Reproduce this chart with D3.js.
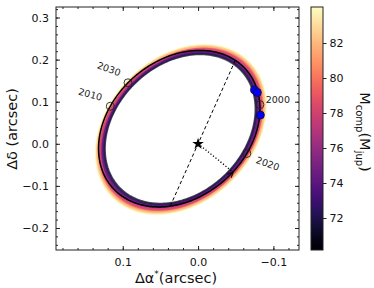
<!DOCTYPE html>
<html>
<head>
<meta charset="utf-8">
<script src="https://cdn.jsdelivr.net/npm/d3@7"></script>
<style>
  body { margin: 0; background: #fff; }
  svg { font-family: "DejaVu Sans", sans-serif; }
</style>
</head>
<body>
<div id="chart"></div>
<script>
// best-fit orbit (a in arcsec, angles in degrees, P in yr)
const bestA = 0.199;
const bestE = 0.35;
const bestInc = 58.7;
const bestOmega = 245.5;   // argument of periastron
const bestNode = -14.0;    // position angle of node
const bestP = 21.55;
const bestT0 = 2019.41;

// sample orbits coloured by companion mass
const sampleMass = [76.3, 83.2, 70.6, 79.7, 73.7, 81.4, 77.1, 71.8, 84.0, 75.4, 80.5, 72.9, 78.8, 82.3, 74.6, 78.0];
const sampleA    = [0.1996, 0.2116, 0.1910, 0.2053, 0.1958, 0.2083, 0.2008, 0.1928, 0.2130, 0.1984, 0.2067, 0.1945, 0.2037, 0.2100, 0.1972, 0.2022];
const sampleE    = [0.339, 0.313, 0.360, 0.326, 0.349, 0.320, 0.336, 0.356, 0.310, 0.342, 0.323, 0.351, 0.329, 0.316, 0.345, 0.332];
const sampleInc  = [59.7, 59.7, 59.7, 59.7, 59.7, 59.7, 59.7, 59.7, 59.7, 59.7, 59.7, 59.7, 59.7, 59.7, 59.7, 59.7];

// epochs marked on the orbit
const epochs = [2000, 2010, 2020, 2030];

// observed relative astrometry (arcsec)
const obsRA  = [-0.0750, -0.0787, -0.0827];
const obsDec = [0.1280, 0.1220, 0.0682];

const xTicks = [0.1, 0.0, -0.1];
const yTicks = [-0.2, -0.1, 0.0, 0.1, 0.2, 0.3];
const cbTicks = [72, 74, 76, 78, 80, 82];
const massRange = [70.17, 84.06];

// label placement (pixel offsets from marker, rotation)
const epochLabelPos = { 2000: [18, -5, 0], 2010: [-20, -12, 15], 2020: [21, 10, 20], 2030: [-19, -14, 20] };

const W = 374, H = 288;
const L = 56, T = 7, R = 299, B = 250;
const rad = Math.PI / 180;

const svg = d3.select('#chart').append('svg').attr('width', W).attr('height', H);

const x = d3.scaleLinear().domain([0.1886, -0.134]).range([L, R]);
const y = d3.scaleLinear().domain([-0.2523, 0.325]).range([B, T]);
const color = d3.scaleSequential(d3.interpolateMagma).domain(massRange);

function makeOrbit(a, e, inc, omega, node, P, T0) {
  const w = omega * rad, W_ = node * rad, ci = Math.cos(inc * rad);
  const A = a * (Math.cos(w) * Math.cos(W_) - Math.sin(w) * Math.sin(W_) * ci);
  const Bc = a * (Math.cos(w) * Math.sin(W_) + Math.sin(w) * Math.cos(W_) * ci);
  const F = a * (-Math.sin(w) * Math.cos(W_) - Math.cos(w) * Math.sin(W_) * ci);
  const G = a * (-Math.sin(w) * Math.sin(W_) + Math.cos(w) * Math.cos(W_) * ci);
  const q = Math.sqrt(1 - e * e);
  const fromE = E => {
    const X = Math.cos(E) - e, Y = q * Math.sin(E);
    return [Bc * X + G * Y, A * X + F * Y];
  };
  const fromNu = nu => {
    const r = (1 - e * e) / (1 + e * Math.cos(nu));
    const X = r * Math.cos(nu), Y = r * Math.sin(nu);
    return [Bc * X + G * Y, A * X + F * Y];
  };
  const atTime = t => {
    let M = 2 * Math.PI * (t - T0) / P;
    M = ((M % (2 * Math.PI)) + 2 * Math.PI) % (2 * Math.PI);
    let E = M;
    for (let k = 0; k < 30; k++) E -= (E - e * Math.sin(E) - M) / (1 - e * Math.cos(E));
    return fromE(E);
  };
  return { fromE, fromNu, atTime, w };
}

const line = d3.line().x(d => x(d[0])).y(d => y(d[1])).curve(d3.curveLinearClosed);
const Es = d3.range(0, 360, 1).map(d => d * rad);

const clip = svg.append('clipPath').attr('id', 'clip')
  .append('rect').attr('x', L).attr('y', T).attr('width', R - L).attr('height', B - T);
const plot = svg.append('g').attr('clip-path', 'url(#clip)');

// sample orbits
sampleMass.forEach((m, i) => {
  const orb = makeOrbit(sampleA[i], sampleE[i], sampleInc[i], bestOmega, bestNode, bestP, bestT0);
  plot.append('path')
    .attr('d', line(Es.map(orb.fromE)))
    .attr('fill', 'none')
    .attr('stroke', color(m))
    .attr('stroke-width', 2.2)
    .attr('stroke-opacity', 0.7);
});

const best = makeOrbit(bestA, bestE, bestInc, bestOmega, bestNode, bestP, bestT0);

// best orbit
plot.append('path')
  .attr('d', line(Es.map(best.fromE)))
  .attr('fill', 'none')
  .attr('stroke', '#000')
  .attr('stroke-width', 1.5);

// line of nodes
const n1 = best.fromNu(-best.w), n2 = best.fromNu(Math.PI - best.w);
plot.append('line')
  .attr('x1', x(n1[0])).attr('y1', y(n1[1]))
  .attr('x2', x(n2[0])).attr('y2', y(n2[1]))
  .attr('stroke', '#000').attr('stroke-width', 1)
  .attr('stroke-dasharray', '3.5,2.5');

// periastron
const peri = best.fromE(0);
plot.append('line')
  .attr('x1', x(0)).attr('y1', y(0))
  .attr('x2', x(peri[0])).attr('y2', y(peri[1]))
  .attr('stroke', '#000').attr('stroke-width', 1.3)
  .attr('stroke-dasharray', '1.2,2');

// direction arrow at periastron
const pn = best.fromE(0.05);
const ang = Math.atan2(y(pn[1]) - y(peri[1]), x(pn[0]) - x(peri[0]));
const tipX = x(peri[0]), tipY = y(peri[1]);
const hl = 6;
plot.append('path')
  .attr('d', `M${tipX + hl * Math.cos(ang + Math.PI - 0.45)},${tipY + hl * Math.sin(ang + Math.PI - 0.45)}L${tipX},${tipY}L${tipX + hl * Math.cos(ang + Math.PI + 0.45)},${tipY + hl * Math.sin(ang + Math.PI + 0.45)}`)
  .attr('fill', 'none').attr('stroke', '#000').attr('stroke-width', 1.1);

// star
plot.append('path')
  .attr('d', d3.symbol(d3.symbolStar, 42)())
  .attr('transform', `translate(${x(0)},${y(0)})`)
  .attr('fill', '#000');

// epoch markers
epochs.forEach(t => {
  const p = best.atTime(t);
  const px = x(p[0]), py = y(p[1]);
  plot.append('circle').attr('cx', px).attr('cy', py).attr('r', 4)
    .attr('fill', 'none').attr('stroke', '#222').attr('stroke-width', 0.9);
  const o = epochLabelPos[t];
  svg.append('text')
    .attr('transform', `translate(${px + o[0]},${py + o[1]}) rotate(${o[2]})`)
    .attr('text-anchor', 'middle').attr('dominant-baseline', 'central')
    .attr('font-size', 9.5).attr('fill', '#222')
    .text(t);
});

// observations
obsRA.forEach((ra, i) => {
  plot.append('circle').attr('cx', x(ra)).attr('cy', y(obsDec[i])).attr('r', 4)
    .attr('fill', '#0000ff').attr('stroke', '#111').attr('stroke-width', 0.8);
});

// axes
const fmt = d3.format('.1f');
const xMinor = d3.range(-12, 19, 2).map(d => d / 100);
const yMinor = d3.range(-24, 33, 2).map(d => d / 100);

function addAxis(axis, tr) {
  const g = svg.append('g').attr('transform', tr).call(axis);
  g.select('.domain').remove();
  g.selectAll('line').attr('stroke', '#222');
  g.selectAll('text').attr('font-size', 11).attr('fill', '#111').attr('font-family', 'DejaVu Sans');
  return g;
}
addAxis(d3.axisBottom(x).tickValues(xTicks).tickSize(-4).tickPadding(8).tickFormat(fmt), `translate(0,${B})`);
addAxis(d3.axisBottom(x).tickValues(xMinor).tickSize(-2).tickFormat(''), `translate(0,${B})`);
addAxis(d3.axisTop(x).tickValues(xTicks).tickSize(-4).tickFormat(''), `translate(0,${T})`);
addAxis(d3.axisTop(x).tickValues(xMinor).tickSize(-2).tickFormat(''), `translate(0,${T})`);
addAxis(d3.axisLeft(y).tickValues(yTicks).tickSize(-4).tickPadding(7).tickFormat(fmt), `translate(${L},0)`);
addAxis(d3.axisLeft(y).tickValues(yMinor).tickSize(-2).tickFormat(''), `translate(${L},0)`);
addAxis(d3.axisRight(y).tickValues(yTicks).tickSize(-4).tickFormat(''), `translate(${R},0)`);
addAxis(d3.axisRight(y).tickValues(yMinor).tickSize(-2).tickFormat(''), `translate(${R},0)`);

svg.append('rect').attr('x', L).attr('y', T).attr('width', R - L).attr('height', B - T)
  .attr('fill', 'none').attr('stroke', '#222').attr('stroke-width', 1);

// axis labels
svg.append('text')
  .attr('x', 176).attr('y', 283)
  .attr('text-anchor', 'middle').attr('font-size', 14.5).attr('fill', '#111')
  .html('Δα<tspan font-size="9" dy="-6">*</tspan><tspan dy="6">(arcsec)</tspan>');
svg.append('text')
  .attr('transform', 'translate(17,129) rotate(-90)')
  .attr('text-anchor', 'middle').attr('font-size', 14.5).attr('fill', '#111')
  .text('Δδ (arcsec)');

// colorbar
const cbL = 311, cbR = 323;
const cb = d3.scaleLinear().domain(massRange).range([B, T]);
const grad = svg.append('defs').append('linearGradient').attr('id', 'cbgrad')
  .attr('x1', 0).attr('y1', 1).attr('x2', 0).attr('y2', 0);
d3.range(0, 1.0001, 0.05).forEach(s => {
  grad.append('stop').attr('offset', s).attr('stop-color', d3.interpolateMagma(s));
});
svg.append('rect').attr('x', cbL).attr('y', T).attr('width', cbR - cbL).attr('height', B - T)
  .attr('fill', 'url(#cbgrad)').attr('stroke', '#222').attr('stroke-width', 1);
addAxis(d3.axisRight(cb).tickValues(cbTicks).tickSize(3.5).tickPadding(3), `translate(${cbR},0)`);

svg.append('text')
  .attr('transform', 'translate(360,132) rotate(90)')
  .attr('text-anchor', 'middle').attr('font-size', 14.5).attr('fill', '#111')
  .html('M<tspan font-size="10" dy="4">comp</tspan><tspan dy="-4">(M</tspan><tspan font-size="10" dy="4">jup</tspan><tspan dy="-4">)</tspan>');
</script>
</body>
</html>
